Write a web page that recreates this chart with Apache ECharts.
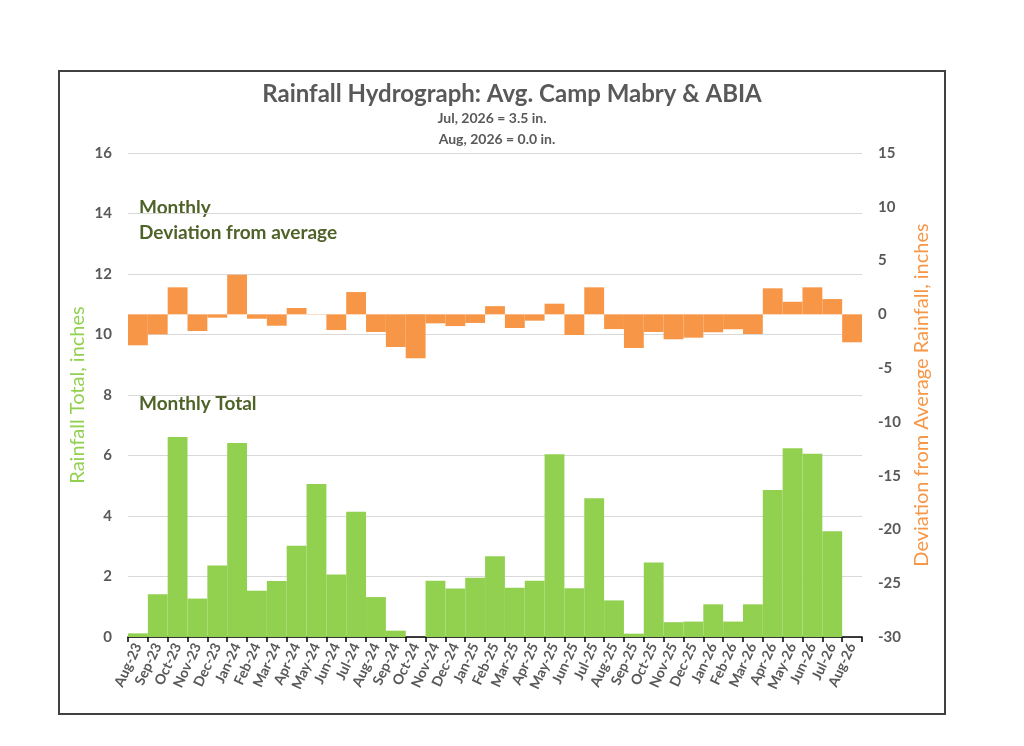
<!DOCTYPE html>
<html lang="en" style="height: 100%">
<head>
  <meta charset="utf-8">
  <title>Rainfall Hydrograph</title>
  <script src="https://cdn.jsdelivr.net/npm/echarts@6/dist/echarts.min.js"></script>
</head>
<body style="height: 100%; margin: 0; background: #fff">
<div id="main" style="width: 1024px; height: 746px"></div>

<script type="text/javascript">
  // months shown on the x axis
  var months = ['Aug-23','Sep-23','Oct-23','Nov-23','Dec-23','Jan-24','Feb-24','Mar-24','Apr-24','May-24',
    'Jun-24','Jul-24','Aug-24','Sep-24','Oct-24','Nov-24','Dec-24','Jan-25','Feb-25','Mar-25','Apr-25',
    'May-25','Jun-25','Jul-25','Aug-25','Sep-25','Oct-25','Nov-25','Dec-25','Jan-26','Feb-26','Mar-26',
    'Apr-26','May-26','Jun-26','Jul-26','Aug-26'];

  // monthly rainfall total, inches (left axis)
  var totals = [0.12, 1.41, 6.61, 1.27, 2.36, 6.41, 1.53, 1.85, 3.02, 5.06,
    2.07, 4.14, 1.32, 0.21, 0, 1.86, 1.6, 1.96, 2.67, 1.63, 1.86,
    6.04, 1.61, 4.59, 1.21, 0.11, 2.46, 0.49, 0.51, 1.08, 0.51, 1.08,
    4.86, 6.24, 6.06, 3.5, 0];

  // deviation from average, inches (right axis)
  var deviation = [-2.88, -1.86, 2.51, -1.55, -0.31, 3.68, -0.41, -1.06, 0.59, 0.03,
    -1.46, 2.07, -1.64, -3.04, -4.09, -0.84, -1.09, -0.8, 0.76, -1.27, -0.59,
    0.99, -1.92, 2.51, -1.37, -3.13, -1.64, -2.32, -2.17, -1.67, -1.39, -1.83,
    2.42, 1.17, 2.51, 1.42, -2.6];

  var subLines = ['Jul, 2026 = 3.5 in.', 'Aug, 2026 = 0.0 in.'];

  var FONT = 'Lato';
  var GRAY = '#595959';
  var GREEN = '#92d050';
  var ORANGE = '#f79646';
  var DARKGREEN = '#4f6228';

  var chart = echarts.init(document.getElementById('main'));

  chart.setOption({
    backgroundColor: '#fff',
    animation: false,
    title: {
      text: 'Rainfall Hydrograph: Avg. Camp Mabry & ABIA',
      left: 'center',
      top: 77,
      textStyle: { fontFamily: FONT, fontSize: 24, fontWeight: 'bold', color: GRAY }
    },
    grid: { left: 128, right: 162, top: 153, bottom: 109, containLabel: false },
    xAxis: {
      type: 'category',
      data: months,
      boundaryGap: true,
      axisLine: { lineStyle: { color: '#000', width: 1.5 } },
      axisTick: { show: true, length: 5, lineStyle: { color: '#000', width: 1.5 } },
      axisLabel: {
        interval: 0, rotate: 65, margin: 7,
        fontFamily: FONT, fontSize: 14, fontWeight: 'bold', color: GRAY
      },
      splitLine: { show: false }
    },
    yAxis: [
      {
        type: 'value', min: 0, max: 16, interval: 2, position: 'left',
        axisLine: { show: false }, axisTick: { show: false },
        axisLabel: { margin: 16, fontFamily: FONT, fontSize: 15, fontWeight: 'bold', color: GRAY },
        splitLine: { lineStyle: { color: '#d9d9d9', width: 1 } }
      },
      {
        type: 'value', min: -30, max: 15, interval: 5, position: 'right',
        axisLine: { show: false }, axisTick: { show: false },
        axisLabel: { margin: 16, fontFamily: FONT, fontSize: 15, fontWeight: 'bold', color: GRAY },
        splitLine: { show: false }
      }
    ],
    series: [
      {
        name: 'Monthly Total',
        type: 'bar',
        yAxisIndex: 0,
        data: totals,
        barCategoryGap: '0%',
        barGap: '-100%',
        itemStyle: { color: GREEN }
      },
      {
        name: 'Deviation from average',
        type: 'bar',
        yAxisIndex: 1,
        data: deviation,
        barCategoryGap: '0%',
        barGap: '-100%',
        itemStyle: { color: ORANGE }
      }
    ],
    graphic: [
      {
        type: 'rect', z: -1, silent: true,
        shape: { x: 59, y: 71, width: 886, height: 643 },
        style: { fill: 'none', stroke: '#404040', lineWidth: 2 }
      },
      {
        type: 'text', x: 492, y: 118,
        style: { text: subLines[0], fontFamily: FONT, fontSize: 14, fontWeight: 'bold', fill: GRAY,
          textAlign: 'center', textVerticalAlign: 'middle' }
      },
      {
        type: 'text', x: 497, y: 139,
        style: { text: subLines[1], fontFamily: FONT, fontSize: 14, fontWeight: 'bold', fill: GRAY,
          textAlign: 'center', textVerticalAlign: 'middle' }
      },
      {
        type: 'text', x: 139, y: 208,
        style: { text: 'Monthly', fontFamily: FONT, fontSize: 19, fontWeight: 'bold', fill: DARKGREEN,
          textVerticalAlign: 'middle' }
      },
      {
        type: 'text', x: 139, y: 233,
        style: { text: 'Deviation from average', fontFamily: FONT, fontSize: 19, fontWeight: 'bold', fill: DARKGREEN,
          textVerticalAlign: 'middle' }
      },
      {
        type: 'text', x: 139, y: 404,
        style: { text: 'Monthly Total', fontFamily: FONT, fontSize: 19, fontWeight: 'bold', fill: DARKGREEN,
          textVerticalAlign: 'middle' }
      },
      {
        type: 'text', x: 78, y: 395, rotation: Math.PI / 2,
        style: { text: 'Rainfall Total, inches', fontFamily: FONT, fontSize: 20, fill: GREEN,
          textAlign: 'center', textVerticalAlign: 'middle' }
      },
      {
        type: 'text', x: 922, y: 395, rotation: Math.PI / 2,
        style: { text: 'Deviation from Average Rainfall, inches', fontFamily: FONT, fontSize: 20, fill: ORANGE,
          textAlign: 'center', textVerticalAlign: 'middle' }
      }
    ]
  });

  window.addEventListener('resize', chart.resize);
</script>
</body>
</html>
